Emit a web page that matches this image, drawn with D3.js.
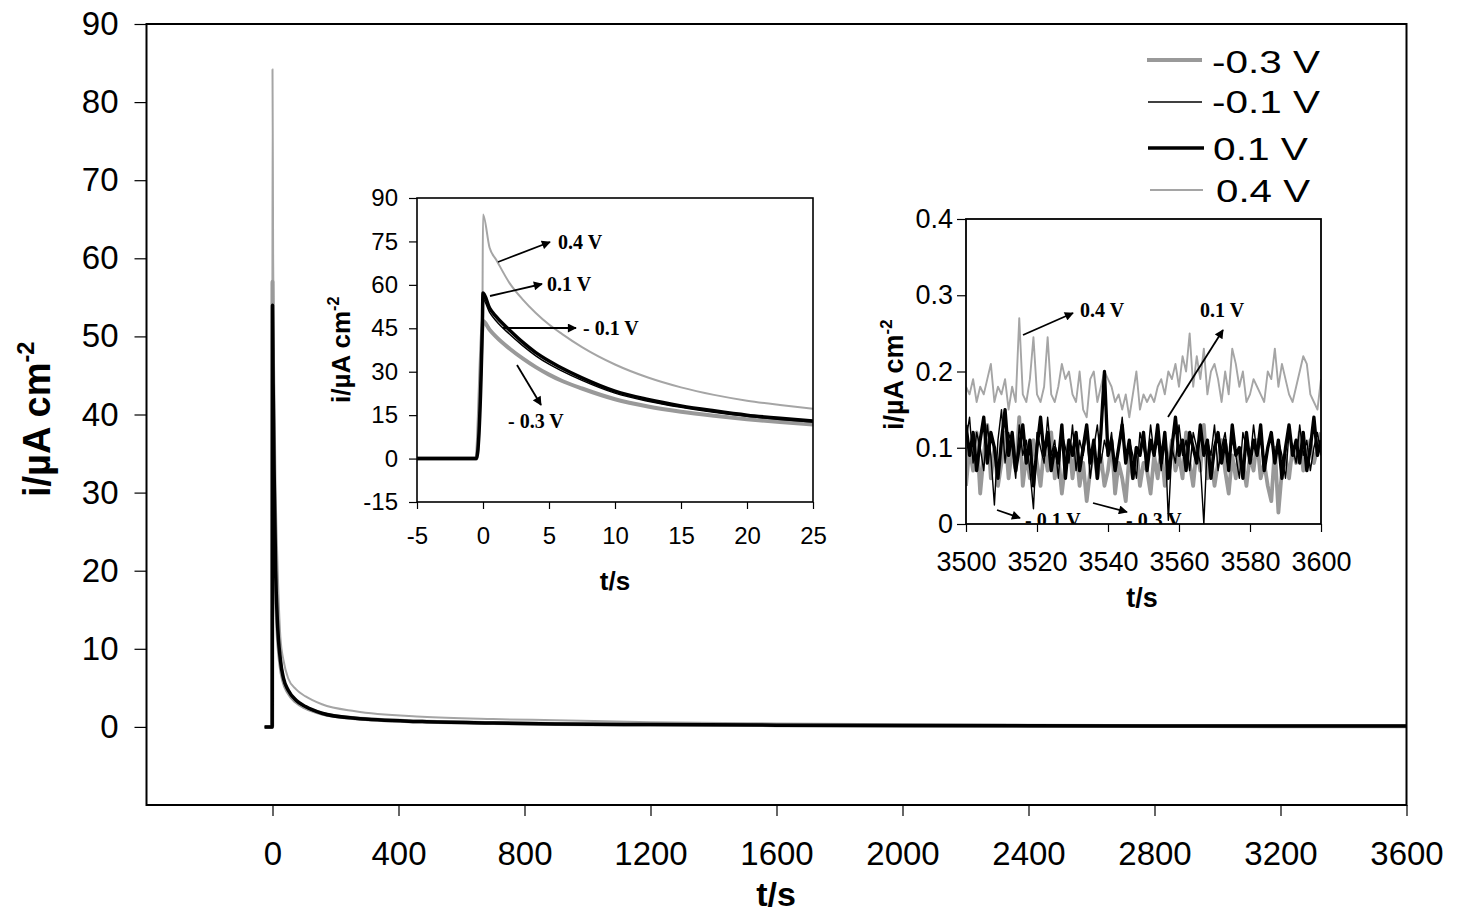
<!DOCTYPE html>
<html>
<head>
<meta charset="utf-8">
<script src="https://cdn.jsdelivr.net/npm/d3@7"></script>
<style>
  body { margin: 0; background: #fff; }
  svg { display: block; font-family: "Liberation Sans", Arial, sans-serif; }
</style>
</head>
<body>
<div id="chart"></div>
<script>
// ---- main run, whole 3600 s ----
const mainTime = [-25, -1, 0, 2, 5, 10, 15, 25, 35, 50, 75, 105, 157, 263, 475, 700, 900, 1200, 1600, 2000, 2400, 2800, 3200, 3600]
const mainNeg03 = [0, 0, 57, 40, 30, 18.5, 13, 8.0, 5.8, 4.4, 3.2, 2.45, 1.7, 1.1, 0.68, 0.5, 0.38, 0.3, 0.22, 0.16, 0.13, 0.11, 0.09, 0.08]
const mainNeg01 = [0, 0, 48, 42, 32, 19.5, 13.6, 8.4, 6.0, 4.6, 3.3, 2.5, 1.7, 1.05, 0.65, 0.48, 0.37, 0.29, 0.21, 0.16, 0.14, 0.12, 0.11, 0.1]
const mainPos01 = [0, 0, 54, 44, 33, 20, 14, 8.6, 6.2, 4.7, 3.4, 2.6, 1.75, 1.1, 0.68, 0.5, 0.38, 0.3, 0.22, 0.17, 0.14, 0.12, 0.11, 0.1]
const mainPos04 = [0, 0, 84.2, 60, 46, 30, 22, 11.5, 8.5, 6.2, 4.8, 3.9, 2.9, 2.0, 1.3, 1.0, 0.85, 0.6, 0.45, 0.35, 0.28, 0.24, 0.2, 0.17]

// ---- first seconds (-5 .. 25 s) ----
const startTime = [-5, -0.5, -0.05, 0, 0.5, 1, 2, 3, 4, 5, 6, 7.5, 10, 12.5, 15, 17.5, 20, 22.5, 25]
const startNeg03 = [0, 0, 45, 47.5, 44.5, 42, 38, 34.6, 31.6, 29, 26.8, 24.2, 20.5, 18, 16.2, 14.8, 13.6, 12.6, 11.8]
const startNeg01 = [0, 0, 46, 55, 50.5, 47.5, 43, 39, 35.5, 32.6, 30.2, 27, 22.6, 19.8, 17.7, 16, 14.6, 13.5, 12.6]
const startPos01 = [0, 0, 46, 57.2, 52, 49, 44.4, 40.2, 36.6, 33.7, 31.2, 27.9, 23.3, 20.4, 18.2, 16.5, 15, 13.9, 13]
const startPos04 = [0, 0, 46, 84.3, 72.8, 68.7, 60.7, 55, 50.3, 46.3, 43, 38.5, 32.5, 28, 24.6, 22, 20, 18.5, 17.2]

// ---- last 100 s (3500 .. 3600 s), one reading per second ----
const endTime = d3.range(3500, 3601, 1)
const endPos04 = [
  0.18,0.17,0.19,0.16,0.18,0.17,0.19,0.21,0.16,0.18,
  0.17,0.19,0.15,0.18,0.16,0.27,0.17,0.16,0.19,0.245,
  0.17,0.16,0.18,0.245,0.17,0.16,0.18,0.21,0.19,0.2,
  0.17,0.16,0.2,0.15,0.14,0.19,0.2,0.16,0.18,0.2,
  0.19,0.18,0.16,0.17,0.15,0.17,0.14,0.17,0.2,0.15,
  0.17,0.16,0.17,0.16,0.18,0.19,0.17,0.2,0.19,0.21,
  0.18,0.22,0.2,0.25,0.18,0.22,0.19,0.23,0.17,0.2,
  0.21,0.19,0.16,0.2,0.17,0.23,0.21,0.18,0.2,0.16,
  0.17,0.19,0.18,0.17,0.16,0.2,0.19,0.23,0.18,0.21,
  0.19,0.17,0.16,0.18,0.2,0.22,0.21,0.17,0.16,0.15,
  0.19]
const endNeg03 = [
  0.05,0.1,0.07,0.12,0.04,0.09,0.13,0.06,0.1,0.05,
  0.08,0.12,0.06,0.1,0.07,0.14,0.05,0.09,0.06,0.11,
  0.08,0.05,0.1,0.07,0.12,0.06,0.09,0.04,0.08,0.11,
  0.06,0.1,0.05,0.08,0.03,0.07,0.1,0.06,0.09,0.05,
  0.07,0.11,0.04,0.08,0.06,0.03,0.09,0.06,0.1,0.05,
  0.08,0.07,0.04,0.09,0.06,0.1,0.05,0.08,0.11,0.07,
  0.09,0.06,0.12,0.08,0.05,0.1,0.07,0.13,0.06,0.09,
  0.05,0.08,0.11,0.07,0.04,0.09,0.06,0.1,0.08,0.05,
  0.09,0.07,0.11,0.06,0.08,0.05,0.03,0.1,0.015,0.07,
  0.09,0.06,0.1,0.08,0.12,0.07,0.09,0.11,0.08,0.1,
  0.12]
const endPos01 = [
  0.13,0.09,0.12,0.07,0.11,0.14,0.08,0.12,0.1,0.06,
  0.11,0.15,0.09,0.12,0.07,0.1,0.13,0.08,0.11,0.05,
  0.1,0.14,0.09,0.12,0.07,0.1,0.08,0.13,0.06,0.11,
  0.09,0.12,0.07,0.1,0.13,0.08,0.11,0.06,0.12,0.2,
  0.09,0.11,0.07,0.1,0.13,0.08,0.11,0.06,0.1,0.09,
  0.12,0.07,0.11,0.09,0.13,0.08,0.12,0.06,0.1,0.14,
  0.09,0.11,0.07,0.12,0.1,0.08,0.13,0.09,0.11,0.06,
  0.1,0.12,0.08,0.11,0.07,0.13,0.09,0.1,0.06,0.12,
  0.08,0.11,0.09,0.13,0.07,0.1,0.12,0.08,0.11,0.06,
  0.1,0.13,0.09,0.11,0.08,0.12,0.07,0.1,0.14,0.09,
  0.11]
const endNeg01 = [
  0.11,0.14,0.08,0.12,0.1,0.07,0.13,0.09,0.025,0.11,
  0.15,0.08,0.12,0.1,0.06,0.13,0.09,0.11,0.07,0.02,
  0.12,0.1,0.08,0.14,0.09,0.11,0.06,0.12,0.1,0.08,
  0.13,0.07,0.11,0.09,0.12,0.06,0.1,0.13,0.08,0.11,
  0.09,0.12,0.07,0.1,0.14,0.08,0.11,0.09,0.06,0.12,
  0.1,0.08,0.13,0.09,0.11,0.07,0.12,0.005,0.1,0.08,
  0.13,0.09,0.11,0.07,0.12,0.1,0.08,0.0,0.11,0.09,
  0.13,0.07,0.1,0.12,0.08,0.11,0.09,0.06,0.12,0.1,
  0.08,0.13,0.09,0.11,0.07,0.1,0.12,0.08,0.11,0.09,
  0.06,0.12,0.1,0.08,0.13,0.09,0.11,0.07,0.1,0.12,
  0.09]

const mainTicksX = [0, 400, 800, 1200, 1600, 2000, 2400, 2800, 3200, 3600]
const mainTicksY = [0, 10, 20, 30, 40, 50, 60, 70, 80, 90]
const startTicksX = [-5, 0, 5, 10, 15, 20, 25]
const startTicksY = [-15, 0, 15, 30, 45, 60, 75, 90]
const endTicksX = [3500, 3520, 3540, 3560, 3580, 3600]
const endTicksY = [0, 0.1, 0.2, 0.3, 0.4]

const look = {
  "-0.3 V": { color: "#999999", width: 4 },
  "-0.1 V": { color: "#000000", width: 1.5 },
  "0.1 V": { color: "#000000", width: 3.5 },
  "0.4 V": { color: "#a5a5a5", width: 2 }
}
const drawOrder = ["0.4 V", "-0.3 V", "0.1 V", "-0.1 V"]

const W = 1467, H = 913
const svg = d3.select("#chart").append("svg").attr("width", W).attr("height", H)
svg.append("rect").attr("width", W).attr("height", H).attr("fill", "#fff")

const defs = svg.append("defs")
defs.append("marker")
  .attr("id", "head")
  .attr("viewBox", "0 0 10 10")
  .attr("refX", 9).attr("refY", 5)
  .attr("markerWidth", 10).attr("markerHeight", 9)
  .attr("markerUnits", "userSpaceOnUse")
  .attr("orient", "auto")
  .append("path").attr("d", "M0,0L10,5L0,10z").attr("fill", "#000")

function drawPanel(p) {
  const x = d3.scaleLinear().domain(p.xDomain).range([p.left, p.right])
  const y = d3.scaleLinear().domain(p.yDomain).range([p.bottom, p.top])
  const g = svg.append("g")

  g.append("rect")
    .attr("x", p.left).attr("y", p.top)
    .attr("width", p.right - p.left).attr("height", p.bottom - p.top)
    .attr("fill", "#fff")

  defs.append("clipPath").attr("id", p.id + "-clip")
    .append("rect")
    .attr("x", p.left).attr("y", p.top)
    .attr("width", p.right - p.left).attr("height", p.bottom - p.top)

  const line = d3.line()
    .x(d => x(d[0]))
    .y(d => y(d[1]))
    .curve(p.curve)

  const lines = g.append("g").attr("clip-path", `url(#${p.id}-clip)`)
  drawOrder.forEach(name => {
    const vals = p.values[name]
    const pts = p.time.map((t, i) => [t, vals[i]])
    lines.append("path")
      .datum(pts)
      .attr("d", line)
      .attr("fill", "none")
      .attr("stroke", look[name].color)
      .attr("stroke-width", p.widthScale * look[name].width)
      .attr("stroke-linejoin", "round")
  })

  g.append("rect")
    .attr("x", p.left).attr("y", p.top)
    .attr("width", p.right - p.left).attr("height", p.bottom - p.top)
    .attr("fill", "none").attr("stroke", "#000").attr("stroke-width", p.frame)

  const ax = g.append("g")
    .attr("transform", `translate(0,${p.bottom})`)
    .call(d3.axisBottom(x).tickValues(p.xTicks).tickSize(p.tickX).tickPadding(p.padX).tickFormat(d => String(d)))
  const ay = g.append("g")
    .attr("transform", `translate(${p.left},0)`)
    .call(d3.axisLeft(y).tickValues(p.yTicks).tickSize(p.tickY).tickPadding(p.padY).tickFormat(d => String(d)))

  ;[ax, ay].forEach(a => {
    a.select(".domain").remove()
    a.attr("font-size", p.font).attr("font-family", "Liberation Sans, Arial, sans-serif")
    a.selectAll("line").attr("stroke", "#000").attr("stroke-width", 1.2)
    a.selectAll("text").attr("fill", "#000")
  })

  // axis titles
  g.append("text")
    .attr("x", p.xTitle[0]).attr("y", p.xTitle[1])
    .attr("text-anchor", "middle")
    .attr("font-weight", "bold").attr("font-size", p.xTitleFont || p.titleFont)
    .text("t/s")

  const yt = g.append("text")
    .attr("transform", `translate(${p.yTitle[0]},${p.yTitle[1]}) rotate(-90)`)
    .attr("font-weight", "bold").attr("font-size", p.titleFont)
  yt.append("tspan").text("i/\u00b5A cm")
  yt.append("tspan").attr("font-size", p.titleFont * 0.62).attr("dy", -p.titleFont * 0.42).text("-2")

  // arrows with their labels
  const notes = g.append("g").attr("clip-path", p.clipNotes ? `url(#${p.id}-clip)` : null)
  ;(p.notes || []).forEach(n => {
    notes.append("line")
      .attr("x1", n.from[0]).attr("y1", n.from[1])
      .attr("x2", n.to[0]).attr("y2", n.to[1])
      .attr("stroke", "#000").attr("stroke-width", 1.8)
      .attr("marker-end", "url(#head)")
    notes.append("text")
      .attr("x", n.at[0]).attr("y", n.at[1])
      .attr("font-family", "Liberation Serif, Times New Roman, serif")
      .attr("font-weight", "bold").attr("font-size", 20)
      .text(n.text)
  })
  return g
}

// main panel
drawPanel({
  id: "main",
  xDomain: [-400, 3600], yDomain: [-10, 90],
  left: 146.5, right: 1406.5, top: 24, bottom: 805,
  time: mainTime,
  values: { "-0.3 V": mainNeg03, "-0.1 V": mainNeg01, "0.1 V": mainPos01, "0.4 V": mainPos04 },
  curve: d3.curveMonotoneX, widthScale: 1,
  xTicks: mainTicksX, yTicks: mainTicksY,
  tickX: 11, tickY: 12, padX: 26, padY: 16, font: 33, frame: 2,
  titleFont: 38, xTitleFont: 34, xTitle: [776, 906], yTitle: [50, 497]
})

// inset: first seconds
drawPanel({
  id: "start",
  xDomain: [-5, 25], yDomain: [-15, 90],
  left: 417, right: 813, top: 198, bottom: 502,
  time: startTime,
  values: { "-0.3 V": startNeg03, "-0.1 V": startNeg01, "0.1 V": startPos01, "0.4 V": startPos04 },
  curve: d3.curveMonotoneX, widthScale: 1,
  xTicks: startTicksX, yTicks: startTicksY,
  tickX: 7, tickY: 8, padX: 18, padY: 11, font: 24, frame: 1.6,
  titleFont: 26, xTitle: [615, 590], yTitle: [350, 403],
  notes: [
    { from: [498, 262], to: [550, 242], at: [558, 249], text: "0.4 V" },
    { from: [490, 296], to: [542, 284], at: [547, 291], text: "0.1 V" },
    { from: [503, 328], to: [576, 328], at: [583, 335], text: "- 0.1 V" },
    { from: [517, 365], to: [541, 405], at: [508, 428], text: "- 0.3 V" }
  ]
})

// inset: last 100 s
drawPanel({
  id: "end",
  xDomain: [3500, 3600], yDomain: [0, 0.4],
  left: 966, right: 1321, top: 219, bottom: 524,
  time: endTime,
  values: { "-0.3 V": endNeg03, "-0.1 V": endNeg01, "0.1 V": endPos01, "0.4 V": endPos04 },
  curve: d3.curveLinear, widthScale: 0.95,
  xTicks: endTicksX, yTicks: endTicksY,
  tickX: 8, tickY: 9, padX: 20, padY: 4, font: 27, frame: 1.8,
  titleFont: 27, xTitle: [1142, 607], yTitle: [903, 430],
  clipNotes: true,
  notes: [
    { from: [1023, 335], to: [1073, 313], at: [1080, 317], text: "0.4 V" },
    { from: [1168, 417], to: [1223, 330], at: [1200, 317], text: "0.1 V" },
    { from: [997, 510], to: [1020, 518], at: [1025, 527], text: "- 0.1 V" },
    { from: [1093, 503], to: [1127, 512], at: [1126, 527], text: "- 0.3 V" }
  ]
})

// legend, no box
const legendRows = [
  { name: "-0.3 V", y: 60, base: 73, x1: 1147, x2: 1202, tx: 1212, len: 108 },
  { name: "-0.1 V", y: 102, base: 113, x1: 1148, x2: 1202, tx: 1212, len: 108 },
  { name: "0.1 V", y: 148, base: 160, x1: 1148, x2: 1204, tx: 1213, len: 95 },
  { name: "0.4 V", y: 190, base: 202, x1: 1150, x2: 1203, tx: 1216, len: 94 }
]
const legend = svg.append("g")
legendRows.forEach(r => {
  legend.append("line")
    .attr("x1", r.x1).attr("x2", r.x2).attr("y1", r.y).attr("y2", r.y)
    .attr("stroke", look[r.name].color).attr("stroke-width", look[r.name].width)
  legend.append("text")
    .attr("x", r.tx).attr("y", r.base)
    .attr("font-size", 32)
    .attr("textLength", r.len).attr("lengthAdjust", "spacingAndGlyphs")
    .text(r.name)
})
</script>
</body>
</html>
